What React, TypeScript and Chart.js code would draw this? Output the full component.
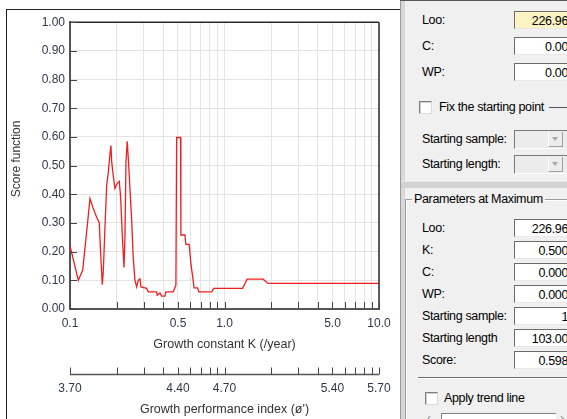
import React, { useEffect, useRef } from 'react';
import { Chart, registerables } from 'chart.js';

Chart.register(...registerables);

// ---- Data ----
const kValues = [
  0.1, 0.1132, 0.1208, 0.1282, 0.1347, 0.1415, 0.1488, 0.1547, 0.158, 0.1618,
  0.1642, 0.1684, 0.1727, 0.1769, 0.1814, 0.1841, 0.186, 0.1905, 0.1954, 0.2004,
  0.2084, 0.2127, 0.2179, 0.2212, 0.2235, 0.2268, 0.2302, 0.2347, 0.2397, 0.2443,
  0.2506, 0.2566, 0.2632, 0.27, 0.2765, 0.2836, 0.2879, 0.3133, 0.3209, 0.3637,
  0.3669, 0.382, 0.3917, 0.4114, 0.4176, 0.4656, 0.4846, 0.49, 0.5196, 0.522,
  0.554, 0.5623, 0.5907, 0.606, 0.627, 0.635, 0.6695, 0.6826, 0.8249, 0.8535,
  1.309, 1.401, 1.778, 1.915, 10,
];
const scores = [
  0.22, 0.1, 0.135, 0.27, 0.385, 0.35, 0.32, 0.3, 0.19, 0.085,
  0.13, 0.285, 0.43, 0.475, 0.54, 0.57, 0.515, 0.465, 0.42, 0.435,
  0.445, 0.39, 0.26, 0.19, 0.145, 0.25, 0.51, 0.585, 0.505, 0.42,
  0.31, 0.18, 0.1, 0.077, 0.1, 0.105, 0.077, 0.072, 0.06, 0.06,
  0.048, 0.056, 0.045, 0.045, 0.06, 0.06, 0.083, 0.598, 0.598, 0.258,
  0.258, 0.225, 0.225, 0.158, 0.1, 0.074, 0.074, 0.06, 0.06, 0.072,
  0.072, 0.104, 0.104, 0.089, 0.089,
];
const kTicks = [0.1, 0.2, 0.3, 0.4, 0.5, 0.6, 0.7, 0.8, 0.9, 1, 2, 3, 4, 5, 6, 7, 8, 9, 10];
const kLabelValues = [0.1, 0.5, 1, 5, 10];
const kLabels = ['0.1', '0.5', '1.0', '5.0', '10.0'];
const phiLabels = ['3.70', '4.40', '4.70', '5.40', '5.70'];
const yTicks = [0, 0.1, 0.2, 0.3, 0.4, 0.5, 0.6, 0.7, 0.8, 0.9, 1.0];

const upperLabels = ['Loo:', 'C:', 'WP:'];
const upperValues = ['226.96', '0.00', '0.00'];
const lowerLabels = ['Loo:', 'K:', 'C:', 'WP:', 'Starting sample:', 'Starting length', 'Score:'];
const lowerValues = ['226.96', '0.500', '0.000', '0.000', '1', '103.00', '0.598'];

const FONT = '"Liberation Sans", Arial, sans-serif';
const TICK_COLOR = '#2f374a';

const labelFor = (vals: number[], labels: string[], v: number) => {
  const i = vals.findIndex((k) => Math.abs(k - v) < 1e-9);
  return i >= 0 ? labels[i] : '';
};

const framePlugin = {
  id: 'frameTicks',
  afterDraw(chart: any) {
    const { ctx, chartArea } = chart;
    const { left, right, top, bottom } = chartArea;
    const sx = chart.scales.x;
    const sy = chart.scales.y;
    const sx2 = chart.scales.x2;
    const line = (x1: number, y1: number, x2: number, y2: number) => {
      ctx.beginPath();
      ctx.moveTo(x1, y1);
      ctx.lineTo(x2, y2);
      ctx.stroke();
    };
    ctx.save();
    // frame top and right
    ctx.strokeStyle = '#2a2a2a';
    ctx.lineWidth = 1.5;
    line(left, top, right, top);
    line(right, top, right, bottom);
    // inward tick marks
    ctx.strokeStyle = '#444';
    ctx.lineWidth = 1;
    sx.ticks.forEach((t: any) => {
      const px = Math.round(sx.getPixelForValue(t.value)) + 0.5;
      line(px, bottom, px, bottom - 7);
    });
    sy.ticks.forEach((t: any) => {
      const py = Math.round(sy.getPixelForValue(t.value)) + 0.5;
      line(left, py, left + 7, py);
    });
    // secondary (phi') axis line with upward ticks
    const ay = Math.round(sx2.top) + 0.5;
    ctx.strokeStyle = '#555';
    ctx.lineWidth = 1.5;
    line(left, ay, right, ay);
    ctx.lineWidth = 1;
    ctx.strokeStyle = '#444';
    sx2.ticks.forEach((t: any) => {
      const px = Math.round(sx2.getPixelForValue(t.value)) + 0.5;
      line(px, ay, px, ay - 7);
    });
    ctx.restore();
  },
};

function ScoreChart() {
  const ref = useRef<HTMLCanvasElement | null>(null);
  useEffect(() => {
    if (!ref.current) return;
    Chart.defaults.font.family = FONT;
    const chart = new Chart(ref.current, {
      type: 'line',
      data: {
        datasets: [
          {
            data: kValues.map((k, i) => ({ x: k, y: scores[i] })),
            borderColor: 'rgb(240,30,30)',
            borderWidth: 1.3,
            pointRadius: 0,
            fill: false,
            tension: 0,
          },
        ],
      },
      options: {
        animation: false,
        responsive: false,
        maintainAspectRatio: false,
        devicePixelRatio: 1,
        layout: { padding: { top: 10, right: 21, left: 0, bottom: 0 } },
        plugins: { legend: { display: false }, tooltip: { enabled: false } },
        scales: {
          x: {
            type: 'logarithmic',
            position: 'bottom',
            min: 0.1,
            max: 10,
            weight: 0,
            afterBuildTicks: (s: any) => {
              s.ticks = kTicks.map((v) => ({ value: v }));
            },
            afterFit: (s: any) => {
              s.height = 65;
            },
            ticks: {
              autoSkip: false,
              maxRotation: 0,
              padding: 7,
              color: TICK_COLOR,
              font: { size: 12 },
              callback: (v: any) => labelFor(kLabelValues, kLabels, Number(v)),
            },
            grid: { color: '#e4e4e4', drawTicks: false, lineWidth: 1 },
            border: { color: '#555', width: 2 },
            title: {
              display: true,
              text: 'Growth constant K (/year)',
              color: '#333',
              font: { size: 12.5 },
              padding: { top: 0, bottom: 21.5 },
            },
          },
          x2: {
            type: 'logarithmic',
            axis: 'x',
            position: 'bottom',
            min: 0.1,
            max: 10,
            weight: 1,
            afterBuildTicks: (s: any) => {
              s.ticks = kTicks.map((v) => ({ value: v }));
            },
            afterFit: (s: any) => {
              s.height = 45;
            },
            ticks: {
              autoSkip: false,
              maxRotation: 0,
              padding: 7,
              color: TICK_COLOR,
              font: { size: 12 },
              callback: (v: any) => labelFor(kLabelValues, phiLabels, Number(v)),
            },
            grid: { display: false, drawOnChartArea: false, drawTicks: false },
            border: { display: false },
            title: {
              display: true,
              text: "Growth performance index (ø')",
              color: '#333',
              font: { size: 12.5 },
              padding: { top: 0, bottom: 2 },
            },
          },
          y: {
            type: 'linear',
            min: 0,
            max: 1,
            afterBuildTicks: (s: any) => {
              s.ticks = yTicks.map((v) => ({ value: v }));
            },
            afterFit: (s: any) => {
              s.width = 63;
            },
            ticks: {
              padding: 5,
              color: TICK_COLOR,
              font: { size: 12 },
              callback: (v: any) => Number(v).toFixed(2),
            },
            grid: { color: '#e4e4e4', drawTicks: false, lineWidth: 1 },
            border: { color: '#555', width: 2 },
            title: {
              display: true,
              text: '    Score function',
              color: '#333',
              font: { size: 12 },
              padding: { top: 2, bottom: 0 },
            },
          },
        },
      } as any,
      plugins: [framePlugin],
    });
    return () => chart.destroy();
  }, []);
  return (
    <canvas
      ref={ref}
      width={393}
      height={409}
      style={{ position: 'absolute', left: 7, top: 10, width: 393, height: 409 }}
    />
  );
}

const textStyle: React.CSSProperties = {
  position: 'absolute',
  fontFamily: FONT,
  fontSize: 12.5,
  letterSpacing: -0.35,
  lineHeight: '14px',
  color: '#000',
  whiteSpace: 'nowrap',
};

function Label({ x, cy, text }: { x: number; cy: number; text: string }) {
  return <div style={{ ...textStyle, left: x, top: cy - 7 }}>{text}</div>;
}

function TextBox({ top, value, bg }: { top: number; value: string; bg?: string }) {
  return (
    <div
      style={{
        position: 'absolute',
        left: 514,
        top,
        width: 62,
        height: 18,
        boxSizing: 'border-box',
        background: bg || '#fff',
        borderTop: '1px solid #6b6b6b',
        borderLeft: '1px solid #6b6b6b',
        borderRight: '1px solid #fff',
        borderBottom: '1px solid #e8e8e8',
      }}
    >
      <div style={{ ...textStyle, right: 7, top: 1.5 }}>{value}</div>
    </div>
  );
}

function Combo({ top }: { top: number }) {
  return (
    <div
      style={{
        position: 'absolute',
        left: 514,
        top,
        width: 62,
        height: 19,
        boxSizing: 'border-box',
        background: '#ececec',
        borderTop: '1px solid #7a7a7a',
        borderLeft: '1px solid #7a7a7a',
        borderRight: '1px solid #fff',
        borderBottom: '1px solid #fff',
      }}
    >
      <div
        style={{
          position: 'absolute',
          left: 33,
          top: 1,
          width: 15,
          height: 15,
          boxSizing: 'border-box',
          background: '#ececec',
          borderLeft: '1px solid #fff',
          borderBottom: '1px solid #a0a0a0',
          borderRight: '1px solid #a0a0a0',
        }}
      >
        <div
          style={{
            position: 'absolute',
            left: 3,
            top: 5,
            width: 0,
            height: 0,
            borderLeft: '3.5px solid transparent',
            borderRight: '3.5px solid transparent',
            borderTop: '4px solid #a8a8a8',
          }}
        />
      </div>
    </div>
  );
}

function CheckBox({ x, y }: { x: number; y: number }) {
  return (
    <div
      style={{
        position: 'absolute',
        left: x,
        top: y,
        width: 13,
        height: 13,
        boxSizing: 'border-box',
        background: '#fff',
        borderTop: '1px solid #808080',
        borderLeft: '1px solid #808080',
        borderRight: '1px solid #dcdcdc',
        borderBottom: '1px solid #dcdcdc',
        boxShadow: 'inset 1px 1px 0 #d0d0d0',
      }}
    />
  );
}

function Panel() {
  const upperTops = [11, 37, 63];
  const lowerTops = [219, 241, 263, 285, 307, 329, 351];
  return (
    <>
      <div style={{ position: 'absolute', left: 400, top: 0, width: 167, height: 419, background: '#f0f0f0' }} />
      <div style={{ position: 'absolute', left: 400, top: 0, width: 1, height: 419, background: '#9a9a9a' }} />
      <div style={{ position: 'absolute', left: 401, top: 0, width: 4, height: 419, background: '#d8d8d8' }} />
      <div style={{ position: 'absolute', left: 400, top: 0, width: 167, height: 1, background: '#555' }} />
      {upperLabels.map((t, i) => (
        <Label key={'ul' + i} x={422} cy={upperTops[i] + 9} text={t} />
      ))}
      {upperValues.map((v, i) => (
        <TextBox key={'uv' + i} top={upperTops[i]} value={v} bg={i === 0 ? '#fcf3c2' : '#fff'} />
      ))}
      <CheckBox x={419} y={101} />
      <Label x={439} cy={107} text="Fix the starting point" />
      <div style={{ position: 'absolute', left: 549, top: 107, width: 18, height: 1, background: '#555' }} />
      <Label x={422} cy={139} text="Starting sample:" />
      <Combo top={130} />
      <Label x={422} cy={164} text="Starting length:" />
      <Combo top={155} />
      <div style={{ position: 'absolute', left: 401, top: 181, width: 166, height: 7, background: '#d2d2d2' }} />
      <div style={{ position: 'absolute', left: 401, top: 181, width: 166, height: 1, background: '#e8e8e8' }} />
      {/* group box */}
      <div
        style={{
          position: 'absolute',
          left: 405,
          top: 199,
          width: 200,
          height: 300,
          borderTop: '1px solid #9c9c9c',
          borderLeft: '1px solid #9c9c9c',
          boxShadow: 'inset 1px 1px 0 #fff',
        }}
      />
      <div style={{ ...textStyle, left: 412, top: 192, background: '#f0f0f0', padding: '0 2px' }}>
        Parameters at Maximum
      </div>
      {lowerLabels.map((t, i) => (
        <Label key={'ll' + i} x={422} cy={lowerTops[i] + 9} text={t} />
      ))}
      {lowerValues.map((v, i) => (
        <TextBox key={'lv' + i} top={lowerTops[i]} value={v} />
      ))}
      <div style={{ position: 'absolute', left: 418, top: 377, width: 149, height: 1, background: '#6a6a6a' }} />
      <div style={{ position: 'absolute', left: 418, top: 378, width: 149, height: 1, background: '#fff' }} />
      <CheckBox x={425} y={392} />
      <Label x={444} cy={398} text="Apply trend line" />
      <div style={{ ...textStyle, left: 427, top: 411, color: '#888' }}>‹</div>
      <div
        style={{
          position: 'absolute',
          left: 441,
          top: 413,
          width: 114,
          height: 10,
          background: '#fff',
          borderTop: '1px solid #808080',
          borderLeft: '1px solid #808080',
        }}
      />
      <div style={{ ...textStyle, left: 560, top: 411, color: '#888' }}>›</div>
    </>
  );
}

export default function App() {
  return (
    <div
      style={{
        position: 'fixed',
        left: 0,
        top: 0,
        width: 567,
        height: 419,
        overflow: 'hidden',
        background: '#fff',
        fontFamily: FONT,
      }}
    >
      <div
        style={{
          position: 'absolute',
          left: 6,
          top: 9,
          width: 400,
          height: 420,
          borderTop: '1px solid #1e1e1e',
          borderLeft: '1px solid #1e1e1e',
        }}
      />
      <ScoreChart />
      <Panel />
    </div>
  );
}
